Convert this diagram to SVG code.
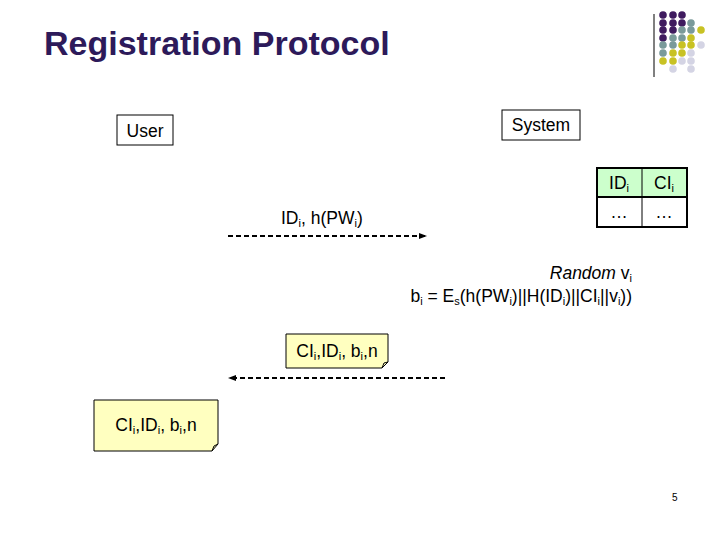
<svg xmlns="http://www.w3.org/2000/svg" width="720" height="540" viewBox="0 0 720 540">
<style>
text{font-family:"Liberation Sans",Arial,sans-serif;fill:#000}
.t{font-size:17.5px}
.s{font-size:11px}
.box{fill:#fff;stroke:#000;stroke-width:1}
.note{fill:#ffffc0;stroke:#000;stroke-width:1}
.dash{stroke:#000;stroke-width:2;stroke-dasharray:5,3;fill:none}
.P{fill:#3f1b5f}.T{fill:#7a9a9a}.Y{fill:#c8c224}.L{fill:#d4d4e4}
</style>
<defs>
<marker id="ah" markerWidth="8" markerHeight="8" refX="7" refY="4" orient="auto" markerUnits="userSpaceOnUse"><path d="M0,1 L8,4 L0,7 Z" fill="#000"/></marker>
</defs>
<rect width="720" height="540" fill="#fff"/>
<text x="44" y="55" style="font-size:34px;font-weight:bold;fill:#2d1a5a">Registration Protocol</text>
<line x1="654" y1="14" x2="654" y2="77" stroke="#000"/>
<g id="dots">
<circle class="P" cx="663" cy="15" r="3.8"/><circle class="P" cx="673" cy="15" r="3.8"/><circle class="P" cx="682" cy="15" r="3.8"/>
<circle class="P" cx="663" cy="23" r="3.8"/><circle class="P" cx="673" cy="23" r="3.8"/><circle class="P" cx="682" cy="23" r="3.8"/><circle class="T" cx="691" cy="23" r="3.8"/>
<circle class="P" cx="663" cy="30" r="3.8"/><circle class="P" cx="673" cy="30" r="3.8"/><circle class="T" cx="682" cy="30" r="3.8"/><circle class="T" cx="691" cy="30" r="3.8"/><circle class="Y" cx="701" cy="30" r="3.8"/>
<circle class="P" cx="663" cy="38" r="3.8"/><circle class="T" cx="673" cy="38" r="3.8"/><circle class="T" cx="682" cy="38" r="3.8"/><circle class="Y" cx="691" cy="38" r="3.8"/>
<circle class="T" cx="663" cy="45" r="3.8"/><circle class="T" cx="673" cy="45" r="3.8"/><circle class="Y" cx="682" cy="45" r="3.8"/><circle class="Y" cx="691" cy="45" r="3.8"/><circle class="L" cx="701" cy="45" r="3.8"/>
<circle class="T" cx="663" cy="53" r="3.8"/><circle class="Y" cx="673" cy="53" r="3.8"/><circle class="Y" cx="682" cy="53" r="3.8"/><circle class="L" cx="691" cy="53" r="3.8"/>
<circle class="Y" cx="663" cy="61" r="3.8"/><circle class="Y" cx="673" cy="61" r="3.8"/><circle class="L" cx="682" cy="61" r="3.8"/><circle class="L" cx="691" cy="61" r="3.8"/>
<circle class="L" cx="673" cy="69" r="3.8"/><circle class="L" cx="691" cy="69" r="3.8"/>
</g>
<g id="user"><rect class="box" x="117" y="115" width="56" height="30"/><text class="t" x="145" y="137" text-anchor="middle">User</text></g>
<g id="system"><rect class="box" x="502" y="110" width="78" height="30"/><text class="t" x="541" y="131" text-anchor="middle">System</text></g>
<g id="table">
<rect x="597" y="168" width="90" height="29" fill="#ccffcc"/>
<rect x="597" y="168" width="90" height="59" fill="none" stroke="#000" stroke-width="2"/>
<line x1="597" y1="197" x2="687" y2="197" stroke="#000" stroke-width="2"/>
<line x1="642" y1="168" x2="642" y2="227" stroke="#000" stroke-width="1"/>
<text class="t" x="619" y="189" text-anchor="middle">ID<tspan class="s" dy="3">i</tspan></text>
<text class="t" x="664" y="189" text-anchor="middle">CI<tspan class="s" dy="3">i</tspan></text>
<text class="t" x="619" y="218" text-anchor="middle">…</text>
<text class="t" x="664" y="218" text-anchor="middle">…</text>
</g>
<g id="connectors">
<line class="dash" x1="228" y1="236" x2="426" y2="236" marker-end="url(#ah)"/>
<line class="dash" x1="445" y1="378" x2="229" y2="378" marker-end="url(#ah)"/>
</g>
<text class="t" x="281" y="224">ID<tspan class="s" dy="3">i</tspan><tspan dy="-3">, h(PW</tspan><tspan class="s" dy="3">i</tspan><tspan dy="-3">)</tspan></text>
<text class="t" x="632" y="279" text-anchor="end"><tspan font-style="italic">Random</tspan> v<tspan class="s" dy="3">i</tspan></text>
<text class="t" x="632" y="302" text-anchor="end">b<tspan class="s" dy="3">i</tspan><tspan dy="-3"> = E</tspan><tspan class="s" dy="3">s</tspan><tspan dy="-3">(h(PW</tspan><tspan class="s" dy="3">i</tspan><tspan dy="-3">)||H(ID</tspan><tspan class="s" dy="3">i</tspan><tspan dy="-3">)||CI</tspan><tspan class="s" dy="3">i</tspan><tspan dy="-3">||v</tspan><tspan class="s" dy="3">i</tspan><tspan dy="-3">))</tspan></text>
<g id="note1">
<path class="note" d="M286,334 H388 V362 L382,368 H286 Z"/>
<path d="M382,368 L384,363 L388,362" fill="none" stroke="#000"/>
<text class="t" x="337" y="357" text-anchor="middle">CI<tspan class="s" dy="3">i</tspan><tspan dy="-3">,ID</tspan><tspan class="s" dy="3">i</tspan><tspan dy="-3">, b</tspan><tspan class="s" dy="3">i</tspan><tspan dy="-3">,n</tspan></text>
</g>
<g id="note2">
<path class="note" d="M94,400 H218 V444 L212,451 H94 Z"/>
<path d="M212,451 L214,446 L218,444" fill="none" stroke="#000"/>
<text class="t" x="156" y="431" text-anchor="middle">CI<tspan class="s" dy="3">i</tspan><tspan dy="-3">,ID</tspan><tspan class="s" dy="3">i</tspan><tspan dy="-3">, b</tspan><tspan class="s" dy="3">i</tspan><tspan dy="-3">,n</tspan></text>
</g>
<text x="672" y="501" style="font-size:10px">5</text>
</svg>
